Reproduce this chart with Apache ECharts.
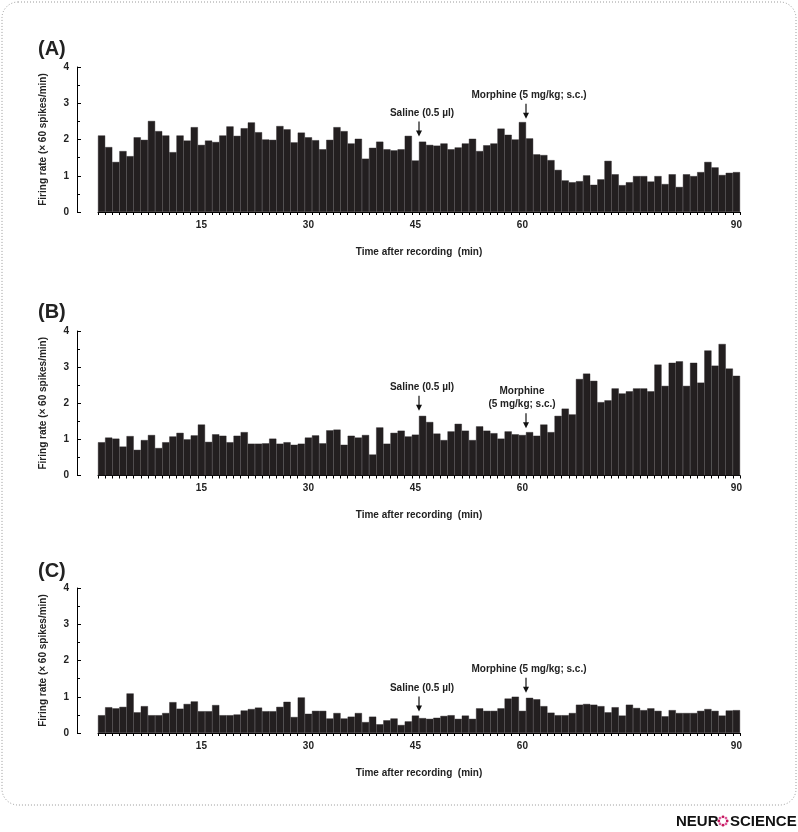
<!DOCTYPE html>
<html><head><meta charset="utf-8">
<script src="https://cdn.jsdelivr.net/npm/echarts@6/dist/echarts.min.js"></script>
<style>html,body{margin:0;padding:0;background:#fff}#c{width:798px;height:832px}</style>
</head><body><div id="c"></div>
<script>
// ---- data ----
const minutes = ['1','2','3','4','5','6','7','8','9','10','11','12','13','14','15','16','17','18','19','20',
'21','22','23','24','25','26','27','28','29','30','31','32','33','34','35','36','37','38','39','40',
'41','42','43','44','45','46','47','48','49','50','51','52','53','54','55','56','57','58','59','60',
'61','62','63','64','65','66','67','68','69','70','71','72','73','74','75','76','77','78','79','80',
'81','82','83','84','85','86','87','88','89','90'];
const xTickLabels = ['15','30','45','60','90'];
const yTicks = [0, 1, 2, 3, 4];

const rateA = [2.11,1.79,1.38,1.68,1.54,2.06,1.99,2.51,2.23,2.11,
1.65,2.11,1.97,2.34,1.85,1.97,1.93,2.11,2.36,2.10,
2.31,2.47,2.20,2.00,1.99,2.37,2.28,1.92,2.19,2.06,
1.98,1.73,1.99,2.34,2.23,1.89,2.02,1.47,1.77,1.94,
1.73,1.70,1.73,2.10,1.42,1.94,1.85,1.83,1.89,1.73,
1.78,1.89,2.02,1.68,1.84,1.89,2.30,2.13,2.00,2.48,
2.03,1.59,1.57,1.43,1.16,0.87,0.82,0.85,1.01,0.75,
0.90,1.41,1.04,0.74,0.82,0.99,0.99,0.84,0.99,0.77,
1.04,0.69,1.04,0.99,1.10,1.38,1.23,1.02,1.08,1.10];

const rateB = [0.92,1.05,1.02,0.80,1.09,0.71,0.98,1.12,0.76,0.92,
1.08,1.18,1.00,1.11,1.41,0.93,1.14,1.10,0.92,1.10,
1.20,0.88,0.88,0.89,1.02,0.88,0.92,0.85,0.88,1.05,
1.11,0.89,1.25,1.27,0.85,1.10,1.05,1.12,0.58,1.33,
0.88,1.18,1.24,1.08,1.13,1.65,1.48,1.16,0.98,1.22,
1.43,1.24,0.98,1.36,1.24,1.17,1.02,1.22,1.14,1.12,
1.20,1.10,1.41,1.20,1.65,1.85,1.69,2.67,2.82,2.62,
2.03,2.08,2.41,2.27,2.33,2.41,2.41,2.33,3.07,2.48,
3.12,3.16,2.48,3.12,2.57,3.46,3.04,3.64,2.96,2.76];

const rateC = [0.49,0.71,0.68,0.72,1.09,0.57,0.74,0.49,0.49,0.55,
0.85,0.67,0.80,0.87,0.60,0.60,0.77,0.49,0.49,0.51,
0.62,0.66,0.70,0.60,0.60,0.72,0.86,0.44,0.98,0.53,
0.61,0.61,0.40,0.55,0.40,0.45,0.55,0.30,0.45,0.24,
0.35,0.40,0.22,0.32,0.48,0.41,0.39,0.42,0.47,0.49,
0.39,0.48,0.39,0.68,0.61,0.61,0.68,0.95,1.00,0.61,
0.97,0.93,0.74,0.56,0.49,0.49,0.55,0.78,0.80,0.78,
0.74,0.57,0.71,0.48,0.78,0.69,0.63,0.68,0.61,0.46,
0.63,0.55,0.55,0.55,0.61,0.66,0.61,0.48,0.62,0.63];

const panelLabels = ['(A)', '(B)', '(C)'];
const annotTime = [45, 60];               // injection times (min)
const annotTextA = ['Saline (0.5 µl)', 'Morphine (5 mg/kg; s.c.)'];
const annotTextB = ['Saline (0.5 µl)', 'Morphine\n(5 mg/kg; s.c.)'];
const annotTextC = ['Saline (0.5 µl)', 'Morphine (5 mg/kg; s.c.)'];
const annotTipA = [2.08, 2.57];
const annotTipB = [1.79, 1.31];
const annotTipC = [0.59, 1.11];

const xName = 'Time after recording  (min)';
const yName = 'Firing rate (× 60 spikes/min)';

// ---- layout ----
const FONT = "'Liberation Sans', Arial, sans-serif";
const BAR = '#231f20';
const panels = [
  {rates: rateA, texts: annotTextA, tips: annotTipA, top: 67, height: 145, labelY: 49},
  {rates: rateB, texts: annotTextB, tips: annotTipB, top: 331, height: 144.5, labelY: 312},
  {rates: rateC, texts: annotTextC, tips: annotTipC, top: 588, height: 145, labelY: 571}
];
const GL = 98, GR = 58;

const chart = echarts.init(document.getElementById('c'), null, {renderer: 'canvas'});
const grids = [], xAxes = [], yAxes = [], series = [];
panels.forEach((p, i) => {
  grids.push({left: GL, right: GR, top: p.top, height: p.height, containLabel: false});
  xAxes.push({
    type: 'category', gridIndex: i, data: minutes, boundaryGap: true,
    axisLine: {show: true, onZero: false, lineStyle: {color: '#000', width: 1}},
    axisTick: {show: true, interval: 0, length: 3, lineStyle: {color: '#000'}},
    axisLabel: {interval: (idx, val) => xTickLabels.includes(val), margin: 8,
      fontFamily: FONT, fontWeight: 'bold', fontSize: 10, color: '#222'},
    splitLine: {show: false},
    name: xName, nameLocation: 'middle', nameGap: 35,
    nameTextStyle: {fontFamily: FONT, fontWeight: 'bold', fontSize: 10, color: '#222'}
  });
  yAxes.push({
    type: 'value', gridIndex: i, min: yTicks[0], max: yTicks[yTicks.length - 1], interval: 1,
    offset: 21,
    axisLine: {show: true, onZero: false, lineStyle: {color: '#000', width: 1}},
    axisTick: {show: true, inside: true, length: 4, lineStyle: {color: '#000'}},
    minorTick: {show: true, splitNumber: 2, length: 3, lineStyle: {color: '#000'}},
    axisLabel: {margin: 8, fontFamily: FONT, fontWeight: 'bold', fontSize: 10, color: '#222'},
    splitLine: {show: false},
    name: yName, nameLocation: 'middle', nameGap: 29,
    nameTextStyle: {fontFamily: FONT, fontWeight: 'bold', fontSize: 10, color: '#222'}
  });
  series.push({
    type: 'bar', xAxisIndex: i, yAxisIndex: i, data: p.rates,
    barCategoryGap: '0%', barGap: '0%',
    itemStyle: {color: BAR, borderColor: BAR, borderWidth: 0.4},
    silent: true
  });
});
// hidden continuous time axes (0-90 min) for annotation arrows
panels.forEach((p, i) => {
  xAxes.push({type: 'value', gridIndex: i, min: 0, max: 90, show: false, position: 'top',
    axisLine: {onZero: false}});
});

chart.setOption({
  animation: false,
  backgroundColor: '#fff',
  grid: grids, xAxis: xAxes, yAxis: yAxes, series: series
});

// ---- annotations & frame ----
const g = [];
g.push({type: 'rect', shape: {x: 2, y: 2, width: 794, height: 803, r: 16},
  style: {fill: 'none', stroke: '#9a9a9a', lineWidth: 1, lineDash: [1, 2]}, silent: true});
panels.forEach((p, i) => {
  g.push({type: 'text', x: 38, y: p.labelY,
    style: {text: panelLabels[i], font: "bold 20px " + FONT, fill: '#222',
      align: 'left', verticalAlign: 'middle', textAlign: 'left', textVerticalAlign: 'middle'}});
  annotTime.forEach((t, k) => {
    const x = chart.convertToPixel({xAxisIndex: 3 + i}, t);
    const y = chart.convertToPixel({yAxisIndex: i}, p.tips[k]);
    const top = y - 15;
    g.push({type: 'line', shape: {x1: x, y1: top, x2: x, y2: y - 5},
      style: {stroke: '#111', lineWidth: 1.2}, silent: true});
    g.push({type: 'polygon', shape: {points: [[x - 3, y - 6], [x + 3, y - 6], [x, y]]},
      style: {fill: '#111'}, silent: true});
    const multi = p.texts[k].indexOf('\n') >= 0;
    g.push({type: 'text', x: x + (multi ? -4 : 3), y: top - 2,
      style: {text: p.texts[k], font: "bold 10px " + FONT, fill: '#222', lineHeight: 13,
        align: 'center', verticalAlign: 'bottom', textAlign: 'center', textVerticalAlign: 'bottom'}});
  });
});
// logo
g.push({type: 'text', x: 676, y: 822, style: {text: 'NEUR', font: "bold 15px " + FONT, fill: '#111',
  align: 'left', verticalAlign: 'middle', textAlign: 'left', textVerticalAlign: 'middle'}});
const lx = 723, ly = 821;
[0, 1, 2, 3, 4, 5, 6, 7].forEach(k => {
  const a = k * Math.PI / 4;
  g.push({type: 'circle', shape: {cx: lx + 4.2 * Math.cos(a), cy: ly + 4.2 * Math.sin(a), r: 1.4},
    style: {fill: k % 2 ? '#e0579b' : '#c2185b'}, silent: true});
});
g.push({type: 'text', x: 730, y: 822, style: {text: 'SCIENCE', font: "bold 15px " + FONT, fill: '#111',
  align: 'left', verticalAlign: 'middle', textAlign: 'left', textVerticalAlign: 'middle'}});

chart.setOption({graphic: g});
</script></body></html>
